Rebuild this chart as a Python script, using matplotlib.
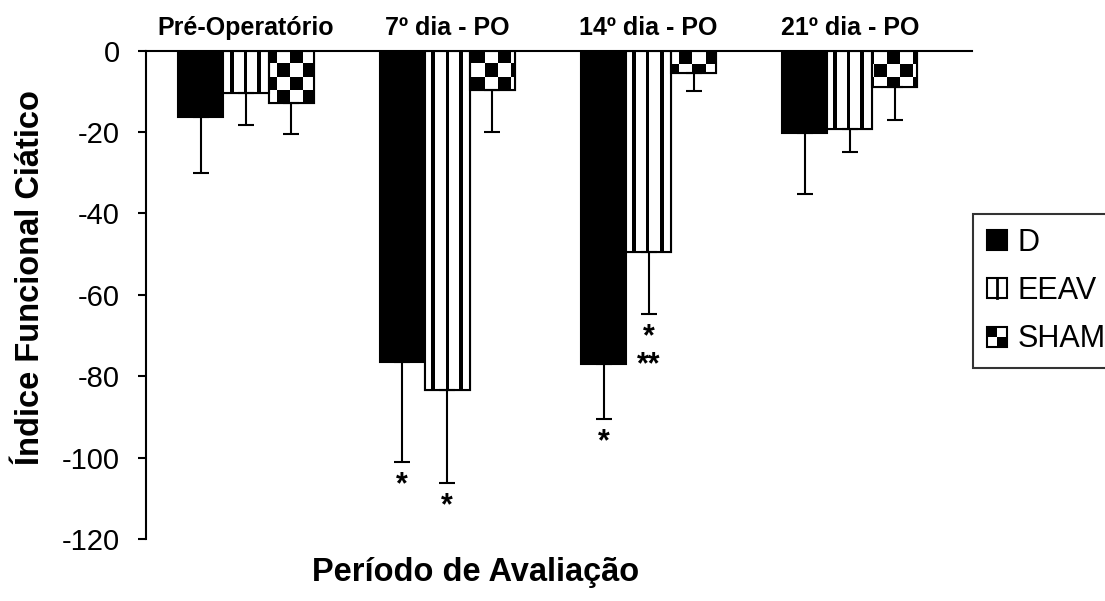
import numpy as np
import matplotlib
matplotlib.use('Agg')
import matplotlib.pyplot as plt
from matplotlib.patches import Patch, Rectangle
from matplotlib.lines import Line2D
from matplotlib.legend_handler import HandlerBase

plt.rcParams['font.family'] = ['Liberation Sans', 'DejaVu Sans']
plt.rcParams['axes.unicode_minus'] = False

periodos = ['Pré-Operatório', '7º dia - PO', '14º dia - PO', '21º dia - PO']
grupos = ['D', 'EEAV', 'SHAM']
d_media = [-16.3, -76.5, -77.0, -20.2]
d_erro = [13.7, 24.6, 13.5, 15.0]
eeav_media = [-10.4, -83.4, -49.5, -19.2]
eeav_erro = [7.9, 22.8, 15.2, 5.7]
sham_media = [-12.9, -9.7, -5.5, -8.9]
sham_erro = [7.6, 10.3, 4.4, 8.1]
# (período, grupo, marca de significância)
marcas = [(1, 0, '*'), (1, 1, '*'), (2, 0, '*'), (2, 1, '*\n**')]

fig = plt.figure(figsize=(11.05, 6.01), dpi=100)
ax = fig.add_axes([146 / 1105, 1 - 539 / 601, 826 / 1105, (539 - 50.7) / 601])
ax.set_xlim(-0.4968, 3.6066)
ax.set_ylim(-120, 0)

x = np.arange(len(periodos))
larg = 0.2236
medias = [d_media, eeav_media, sham_media]
erros = [d_erro, eeav_erro, sham_erro]


def preencher(barra, tipo):
    # textura desenhada pixel a pixel, alinhada ao canto dos eixos
    pts = ax.transData.transform(barra.get_bbox().get_points())
    esq, dir_ = pts[:, 0].min(), pts[:, 0].max()
    baixo, topo = pts[:, 1].min(), pts[:, 1].max()
    c0, c1 = int(np.floor(esq)), int(np.ceil(dir_))
    r0, r1 = int(np.floor(baixo)), int(np.ceil(topo))
    cols = np.arange(c0, c1) + 0.5
    rows = np.arange(r1, r0, -1) - 0.5
    cx = cols[None, :] - ax.bbox.x0
    ry = ax.bbox.y1 - rows[:, None]
    if tipo == 'xadrez':
        lado = 13.0
        img = ((np.floor(cx / lado) + np.floor(ry / lado)) % 2 == 1).astype(float)
    else:
        img = np.broadcast_to(((cx - 4) % 13.4) < 3.6, (len(rows), len(cols))).astype(float)
    inv = ax.transData.inverted()
    (dx0, dy0), (dx1, dy1) = inv.transform([(c0, r0), (c1, r1)])
    im = ax.imshow(img, extent=(dx0, dx1, dy0, dy1), origin='upper', cmap='gray_r',
                   vmin=0, vmax=1, interpolation='nearest', aspect='auto', zorder=1.5)
    im.set_clip_path(barra)


for i, (m, e) in enumerate(zip(medias, erros)):
    pos = x + (i - 1) * larg
    cor = 'black' if i == 0 else 'white'
    barras = ax.bar(pos, m, width=larg, color=cor, edgecolor='black', linewidth=1.5, zorder=1)
    if i > 0:
        for b in barras:
            preencher(b, 'listras' if i == 1 else 'xadrez')
        ax.bar(pos, m, width=larg, fill=False, edgecolor='black', linewidth=1.5, zorder=2)
    ax.errorbar(pos, m, yerr=[e, np.zeros(len(e))], fmt='none', ecolor='black',
                elinewidth=1.5, capsize=6, capthick=1.5, zorder=3)

for p, g, txt in marcas:
    xp = x[p] + (g - 1) * larg
    yp = medias[g][p] - erros[g][p]
    ax.annotate(txt, (xp, yp), xytext=(0, -6), textcoords='offset points',
                ha='center', va='top', fontsize=22, fontweight='bold', linespacing=0.92)

ax.set_ylim(-120, 0)
ax.set_xlim(-0.4968, 3.6066)
ax.spines['right'].set_visible(False)
ax.spines['bottom'].set_visible(False)
ax.spines['top'].set_linewidth(1.5)
ax.spines['left'].set_linewidth(1.5)
ax.xaxis.tick_top()
ax.set_xticks(x)
ax.set_xticklabels(periodos, fontsize=18, fontweight='bold')
ax.tick_params(axis='x', length=0, pad=8)
ax.set_yticks(np.arange(-120, 1, 20))
ax.tick_params(axis='y', direction='out', length=6, width=1.5, labelsize=21, pad=13)

fig.text(476 / 1105, 1 - 573 / 601, 'Período de Avaliação', ha='center', va='center',
         fontsize=23.5, fontweight='bold')
fig.text(31 / 1105, 1 - 278 / 601, 'Índice Funcional Ciático', ha='center', va='center',
         rotation=90, fontsize=23.5, fontweight='bold')


class Icone(HandlerBase):
    def __init__(self, tipo):
        super().__init__()
        self.tipo = tipo

    def create_artists(self, legend, orig_handle, xdescent, ydescent, width, height,
                       fontsize, trans):
        s = height
        x0, y0 = -xdescent, -ydescent
        fundo = 'black' if self.tipo == 'cheio' else 'white'
        arts = [Rectangle((x0, y0), s, s, facecolor=fundo, edgecolor='black',
                          linewidth=1.5, transform=trans)]
        if self.tipo == 'listras':
            arts.append(Line2D([x0 + s / 2] * 2, [y0, y0 + s], color='black', lw=2,
                               transform=trans))
        elif self.tipo == 'xadrez':
            arts.append(Rectangle((x0, y0 + s / 2), s / 2, s / 2, facecolor='black',
                                  linewidth=0, transform=trans))
            arts.append(Rectangle((x0 + s / 2, y0), s / 2, s / 2, facecolor='black',
                                  linewidth=0, transform=trans))
        return arts


alcas = [Patch(label=g) for g in grupos]
leg = fig.legend(handles=alcas, labels=grupos, loc='upper left',
                 bbox_to_anchor=(973 / 1105, 1 - 214 / 601), borderaxespad=0,
                 fontsize=22, frameon=True, fancybox=False, edgecolor='black',
                 handlelength=0.62, handleheight=0.62, handletextpad=0.4,
                 borderpad=0.45, labelspacing=0.6,
                 handler_map={alcas[0]: Icone('cheio'), alcas[1]: Icone('listras'),
                              alcas[2]: Icone('xadrez')})
leg.get_frame().set_linewidth(1.5)

fig.savefig('out.png', dpi=100)
